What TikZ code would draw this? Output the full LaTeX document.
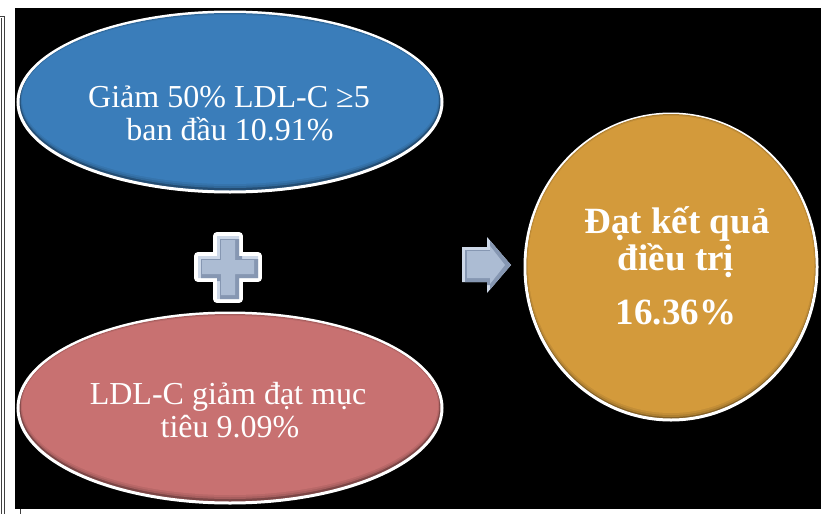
\documentclass[tikz,border=0pt]{standalone}
\usepackage{fontspec}
\setmainfont{Liberation Serif}
\usetikzlibrary{shapes.geometric}
\definecolor{bluemain}{RGB}{58,125,186}
\definecolor{redmain}{RGB}{200,113,113}
\definecolor{goldmain}{RGB}{211,154,59}
\colorlet{bluedark}{bluemain!62!black}
\colorlet{reddark}{redmain!62!black}
\colorlet{golddark}{goldmain!62!black}
\definecolor{steelmain}{RGB}{172,188,211}
\definecolor{steellight}{RGB}{205,216,232}
\definecolor{steeldark}{RGB}{134,151,178}
\tikzset{
  blob/.style={ellipse, inner sep=0pt, draw=white, line width=3pt},
  txt/.style={text=white, inner sep=0pt, anchor=base, font=\fontsize{32}{36}\selectfont},
  boldtxt/.style={text=white, inner sep=0pt, anchor=base, font=\fontsize{37}{40}\selectfont\bfseries},
  frameline/.style={draw=black!75, line width=0.9pt}
}
\begin{document}
\begin{tikzpicture}[x=1pt,y=-1pt]
\useasboundingbox (0,0) rectangle (821,514);
\fill[white] (0,0) rectangle (821,514);
\fill[black] (15,8) rectangle (821,509);
% left frame lines
\draw[frameline] (0,16) -- (4.5,16) -- (4.5,514);
\draw[frameline] (1.5,18) -- (1.5,514);
\draw[frameline] (20.5,509) -- (20.5,514);

% blue ellipse
\node[blob, fill=bluedark, minimum width=424pt, minimum height=180pt] (blue) at (230,102) {};
\fill[bluemain!55!bluedark] (230,100.5) ellipse [x radius=209.5, y radius=87.5];
\fill[bluemain!80!bluedark] (230,100) ellipse [x radius=209, y radius=86];
\fill[bluemain] (230,99.5) ellipse [x radius=208, y radius=84.5];
\node[txt] (b1) at (229,107) {Giảm 50\% LDL-C ≥5};
\node[txt] (b2) at (230,140) {ban đầu 10.91\%};

% red ellipse
\node[blob, fill=reddark, minimum width=424pt, minimum height=190pt] (red) at (230,408) {};
\fill[redmain!55!reddark] (230,406.5) ellipse [x radius=209.5, y radius=92.5];
\fill[redmain!80!reddark] (230,406) ellipse [x radius=209, y radius=91];
\fill[redmain] (230,405.5) ellipse [x radius=208, y radius=89.5];
\node[txt] (r1) at (228,404) {LDL-C giảm đạt mục};
\node[txt] (r2) at (230,437) {tiêu 9.09\%};

% gold circle
\node[blob, fill=golddark, minimum width=292pt, minimum height=306pt] (gold) at (671,267) {};
\fill[goldmain!55!golddark] (671,265.5) ellipse [x radius=144.5, y radius=151.5];
\fill[goldmain!80!golddark] (671,265) ellipse [x radius=144, y radius=150];
\fill[goldmain] (671,264.5) ellipse [x radius=143, y radius=148.5];
\node[boldtxt] (g1) at (677,233) {Đạt kết quả};
\node[boldtxt] (g2) at (676,270) {điều trị};
\node[boldtxt] (g3) at (676,324) {16.36\%};

% plus sign
\draw[white, line width=8pt, line join=round]
  (217,236) -- (239,236) -- (239,256) -- (258,256) -- (258,278) -- (239,278) -- (239,299) -- (217,299) -- (217,278) -- (198,278) -- (198,256) -- (217,256) -- cycle;
\begin{scope}
\clip (217,236) -- (239,236) -- (239,256) -- (258,256) -- (258,278) -- (239,278) -- (239,299) -- (217,299) -- (217,278) -- (198,278) -- (198,256) -- (217,256) -- cycle;
\fill[steellight] (190,230) rectangle (265,305);
\fill[steeldark] (220,239) -- (242,239) -- (242,259) -- (261,259) -- (261,281) -- (242,281) -- (242,302) -- (220,302) -- (220,281) -- (201,281) -- (201,259) -- (220,259) -- cycle;
\fill[steelmain] (221,240) -- (235,240) -- (235,260) -- (254,260) -- (254,274) -- (235,274) -- (235,295) -- (221,295) -- (221,274) -- (202,274) -- (202,260) -- (221,260) -- cycle;
\end{scope}
\coordinate (plus) at (228,267);

% arrow
\begin{scope}
\clip (462,247) -- (487,247) -- (487,237) -- (511,265) -- (487,293) -- (487,282) -- (462,282) -- cycle;
\fill[steellight] (455,230) rectangle (515,300);
\fill[steeldark] (465,250) -- (490,250) -- (490,240) -- (514,268) -- (490,296) -- (490,285) -- (465,285) -- cycle;
\fill[steelmain] (467,251) -- (490,251) -- (490,246) -- (505,265) -- (490,284) -- (490,278) -- (467,278) -- cycle;
\end{scope}
\coordinate (arrow) at (486,265);
\end{tikzpicture}
\end{document}
